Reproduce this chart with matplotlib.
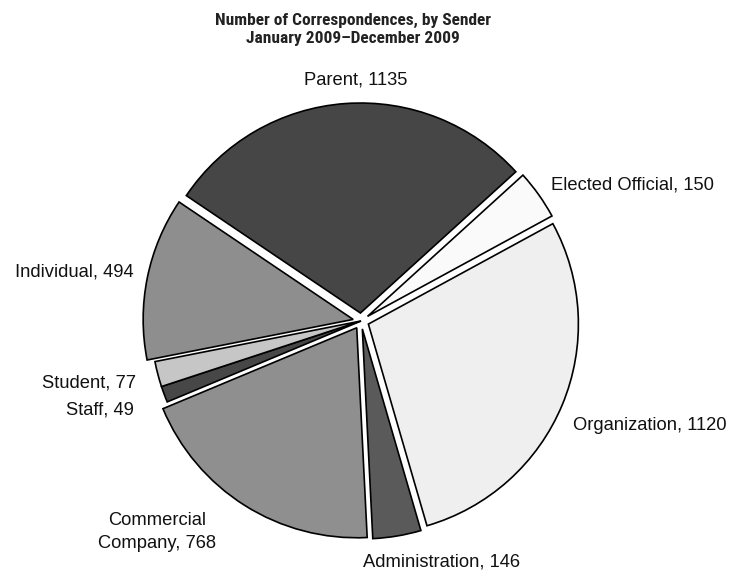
import matplotlib
matplotlib.use("Agg")
import matplotlib.pyplot as plt
from matplotlib import font_manager

senders = ["Parent", "Elected Official", "Organization", "Administration",
           "Commercial\nCompany", "Staff", "Student", "Individual"]
counts = [1135, 150, 1120, 146, 768, 49, 77, 494]
colors = ["#464646", "#fafafa", "#efefef", "#5a5a5a", "#8f8f8f", "#474747", "#c6c6c6", "#8e8e8e"]
explode_px = [8, 8, 8, 8, 8, 0, 0, 8]

W, H = 735, 575
fig = plt.figure(figsize=(W / 100, H / 100), dpi=100)
ax = fig.add_axes([0, 0, 1, 1])

R = 210
cx, cy = 361, H - 321
ax.pie(counts, colors=colors, explode=explode_px, radius=R,
       center=(cx, cy), startangle=146, counterclock=False,
       wedgeprops=dict(edgecolor="black", linewidth=1.2), frame=True)
ax.set_xlim(0, W)
ax.set_ylim(0, H)
ax.set_aspect("equal")
ax.axis("off")

lab_font = dict(family="Liberation Sans", fontsize=13.2, color="#111111")
labels = [f"{s}, {c}" for s, c in zip(senders, counts)]
spec = [
    (356, 80, "center"),
    (551, 185, "left"),
    (573, 425, "left"),
    (442, 562, "center"),
    (157, 532, "center"),
    (134, 410, "right"),
    (136, 383, "right"),
    (134, 272, "right"),
]
for lab, (x, y, ha) in zip(labels, spec):
    ax.text(x, H - y, lab, ha=ha, va="center", linespacing=1.4, **lab_font)

names = {f.name for f in font_manager.fontManager.ttflist}
cands = ["Roboto Condensed", "Open Sans Condensed", "DejaVu Sans Condensed",
         "Liberation Sans Narrow", "Roboto"]
tfam = [c for c in cands if c in names] + ["DejaVu Sans"]
tsize = 12.5 if tfam[0] in ("Roboto Condensed", "Open Sans Condensed", "DejaVu Sans Condensed", "Liberation Sans Narrow") else 11.5
fig.text(353 / W, 1 - 29 / H, "Number of Correspondences, by Sender\nJanuary 2009\u2013December 2009",
         ha="center", va="center", fontsize=tsize, fontweight="bold",
         family=tfam, color="#222222", linespacing=1.25)

fig.savefig("out.png", dpi=100)
